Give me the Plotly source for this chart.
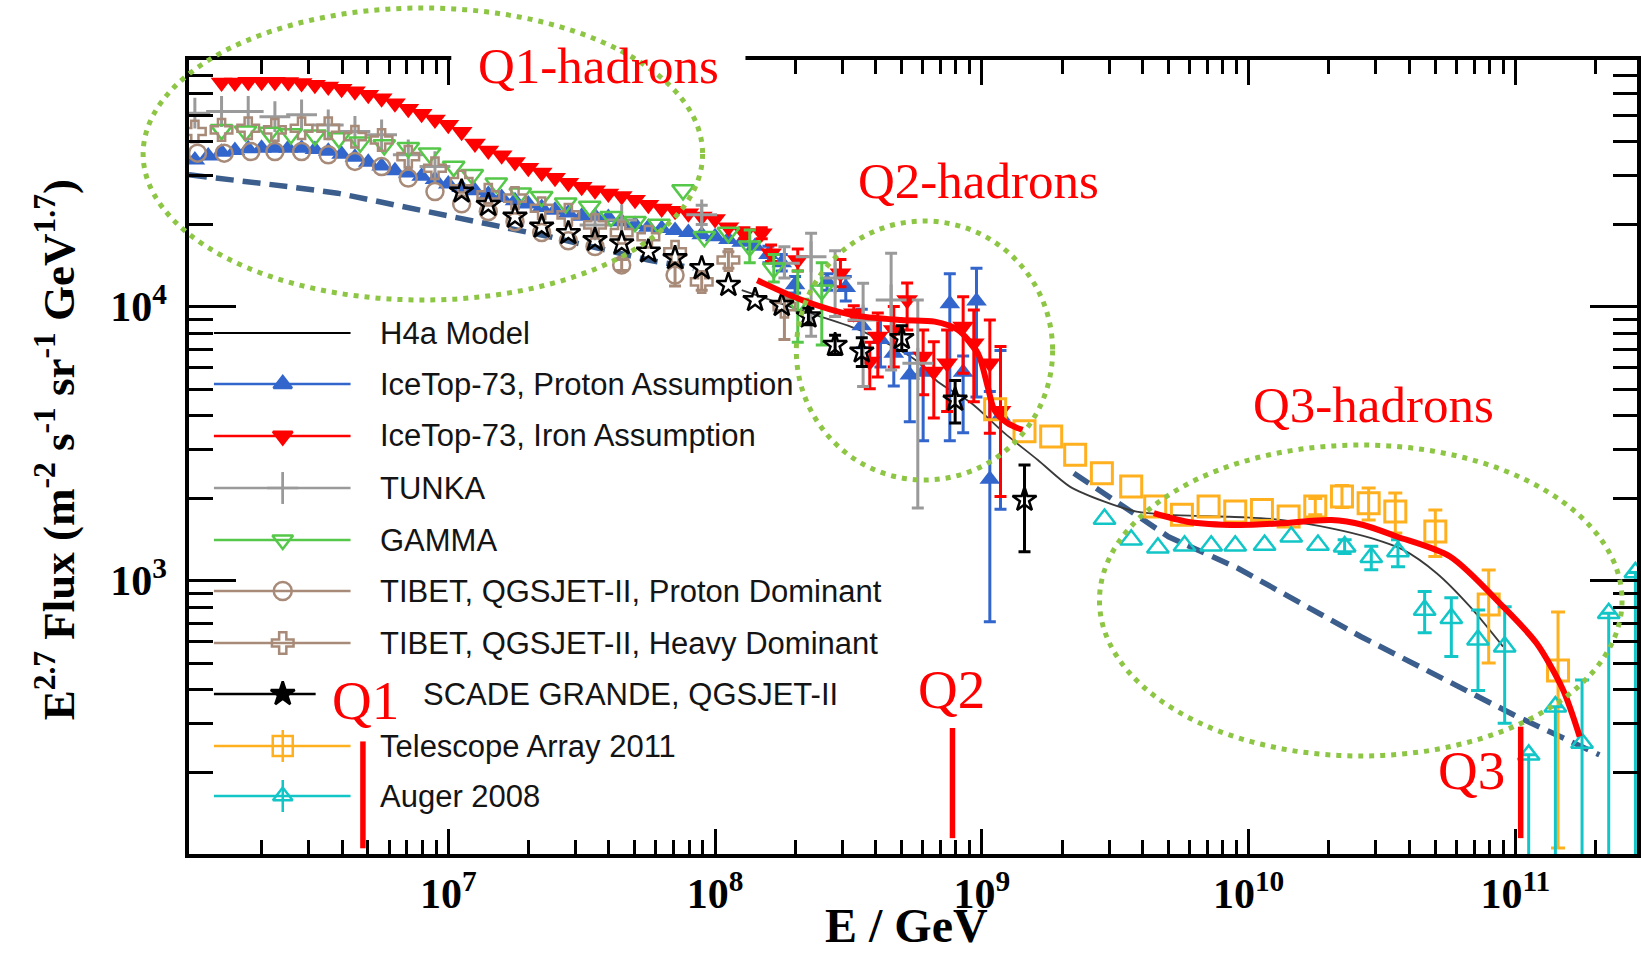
import plotly.graph_objects as go

# ---------------- data: log10(E / GeV) and log10(E^2.7 Flux) ----------------
h4a_logE = [8.10, 8.31, 8.54, 8.75, 8.835, 8.96, 9.085, 9.21, 9.33, 9.46, 9.58, 9.71, 9.89, 9.99,
            10.12, 10.31, 10.46, 10.58, 10.705, 10.83, 10.954]
h4a_logF = [4.06, 3.99, 3.915, 3.806, 3.726, 3.648, 3.538, 3.44, 3.343, 3.288, 3.252, 3.24, 3.234, 3.231,
            3.222, 3.191, 3.155, 3.112, 3.027, 2.905, 2.759]

dash1_logE = [6.028, 6.21, 6.40, 6.585, 6.77, 6.96, 7.15, 7.38, 7.75, 7.92]
dash1_logF = [4.481, 4.462, 4.438, 4.414, 4.377, 4.341, 4.304, 4.255, 4.17, 4.14]
dash2_logE = [9.345, 9.70, 9.96, 10.42, 11.004, 11.315]
dash2_logF = [3.392, 3.16, 3.045, 2.796, 2.505, 2.364]

proton_logE = [6.05, 6.10, 6.15, 6.20, 6.25, 6.30, 6.35, 6.40, 6.45, 6.50, 6.55, 6.60, 6.65, 6.70, 6.75,
               6.80, 6.85, 6.90, 6.95, 7.00, 7.05, 7.10, 7.15, 7.20, 7.25, 7.30, 7.35, 7.40, 7.45, 7.50,
               7.55, 7.60, 7.65, 7.70, 7.75, 7.80, 7.85, 7.90, 7.95, 8.00, 8.05, 8.10, 8.15, 8.20, 8.25,
               8.30, 8.42, 8.49, 8.55, 8.62, 8.67, 8.73, 8.78, 8.88, 8.93, 8.98, 9.03, 9.07]
proton_logF = [4.535, 4.550, 4.563, 4.570, 4.576, 4.578, 4.578, 4.578, 4.578, 4.573, 4.567, 4.556, 4.545,
               4.527, 4.513, 4.496, 4.488, 4.476, 4.464, 4.447, 4.435, 4.423, 4.410, 4.398, 4.386, 4.374,
               4.362, 4.352, 4.342, 4.330, 4.330, 4.325, 4.310, 4.300, 4.290, 4.285, 4.278, 4.270, 4.262,
               4.255, 4.245, 4.235, 4.22, 4.19, 4.16, 4.08, 4.09, 4.07, 3.93, 3.88, 3.83, 3.75, 3.76,
               4.01, 3.76, 4.02, 3.37, 3.60]
proton_up = [0] * 43 + [0.03, 0.03, 0.03, 0.03, 0.04, 0.06, 0.08, 0.08, 0.08, 0.06, 0.11, 0.06, 0.12, 0.32, 0.24]
proton_dn = [0] * 43 + [0.03, 0.03, 0.03, 0.03, 0.05, 0.08, 0.10, 0.12, 0.17, 0.25, 0.50, 0.22, 0.35, 0.52, 0.34]

iron_logE = [6.15, 6.20, 6.25, 6.30, 6.35, 6.40, 6.45, 6.50, 6.55, 6.60, 6.65, 6.70, 6.75, 6.80, 6.85,
             6.90, 6.95, 7.00, 7.05, 7.10, 7.15, 7.20, 7.25, 7.30, 7.35, 7.40, 7.45, 7.50, 7.55, 7.60,
             7.65, 7.70, 7.75, 7.80, 7.85, 7.90, 7.95, 8.00, 8.05, 8.11, 8.175, 8.21, 8.31, 8.47, 8.52,
             8.58, 8.61, 8.67, 8.72, 8.78, 8.82, 8.87, 8.93, 8.97, 9.03, 9.07]
iron_logF = [4.818, 4.818, 4.821, 4.821, 4.821, 4.820, 4.816, 4.810, 4.803, 4.795, 4.786, 4.773, 4.760,
             4.742, 4.722, 4.704, 4.683, 4.664, 4.638, 4.595, 4.570, 4.552, 4.528, 4.507, 4.489, 4.470,
             4.452, 4.437, 4.425, 4.413, 4.404, 4.390, 4.372, 4.358, 4.350, 4.341, 4.329, 4.320, 4.290,
             4.268, 4.268, 4.195, 4.170, 4.122, 3.976, 3.800, 3.891, 3.915, 4.024, 3.818, 3.763, 3.793,
             3.927, 3.866, 3.793, 3.620]
iron_up = [0] * 39 + [0.02, 0.02, 0.03, 0.04, 0.05, 0.027, 0.07, 0.086, 0.085, 0.062, 0.097, 0.109, 0.122,
                      0.109, 0.122, 0.158, 0.234]
iron_dn = [0] * 39 + [0.02, 0.02, 0.03, 0.04, 0.05, 0.027, 0.10, 0.148, 0.135, 0.109, 0.14, 0.17, 0.176,
                      0.17, 0.213, 0.255, 0.313]

tunka_logE = [6.05, 6.15, 6.25, 6.35, 6.45, 6.55, 6.65, 6.75, 6.85, 6.95, 7.55, 7.65, 7.95, 8.26, 8.36,
              8.45, 8.555, 8.66, 8.76]
tunka_logF = [4.706, 4.712, 4.712, 4.693, 4.700, 4.663, 4.639, 4.627, 4.554, 4.511, 4.298, 4.316, 4.335,
              4.158, 4.182, 4.104, 3.951, 4.024, 3.793]
tunka_up = [0] * 12 + [0.035, 0.06, 0.086, 0.10, 0.134, 0.171, 0.231]
tunka_dn = [0] * 12 + [0.035, 0.054, 0.29, 0.14, 0.243, 0.255, 0.528]

gamma_logE = [6.15, 6.24, 6.33, 6.41, 6.50, 6.59, 6.67, 6.76, 6.85, 6.93, 7.02, 7.09, 7.18, 7.27, 7.35,
              7.44, 7.53, 7.61, 7.70, 7.79, 7.88, 7.96, 8.05, 8.13, 8.22, 8.31, 8.40]
gamma_logF = [4.645, 4.64, 4.635, 4.63, 4.625, 4.615, 4.60, 4.59, 4.58, 4.56, 4.511, 4.481, 4.45, 4.414,
              4.401, 4.377, 4.365, 4.328, 4.31, 4.30, 4.426, 4.255, 4.27, 4.22, 4.14, 4.01, 4.06]
gamma_up = [0] * 23 + [0.06, 0.05, 0.12, 0.10]
gamma_dn = [0] * 23 + [0.06, 0.05, 0.14, 0.20]

tibetp_logE = [6.06, 6.16, 6.26, 6.35, 6.45, 6.55, 6.65, 6.75, 6.85, 6.95, 7.05, 7.15, 7.25, 7.35, 7.45,
               7.55, 7.65, 7.85]
tibetp_logF = [4.56, 4.56, 4.566, 4.566, 4.566, 4.554, 4.53, 4.511, 4.469, 4.42, 4.375, 4.347, 4.31, 4.27,
               4.24, 4.219, 4.152, 4.115]
tibetp_up = [0] * 16 + [0.02, 0.04]
tibetp_dn = [0] * 16 + [0.02, 0.04]

tibeth_logE = [6.05, 6.15, 6.25, 6.35, 6.45, 6.55, 6.65, 6.75, 6.85, 6.95, 7.05, 7.15, 7.25, 7.35, 7.45,
               7.55, 7.65, 7.75, 7.85, 7.95, 8.05, 8.26]
tibeth_logF = [4.639, 4.645, 4.651, 4.645, 4.651, 4.651, 4.62, 4.608, 4.547, 4.505, 4.456, 4.408, 4.396,
               4.359, 4.335, 4.298, 4.27, 4.255, 4.20, 4.09, 4.17, 4.00]
tibeth_up = [0] * 19 + [0.03, 0.03, 0.03]
tibeth_dn = [0] * 19 + [0.03, 0.03, 0.12]

kg_logE = [7.05, 7.15, 7.25, 7.35, 7.45, 7.55, 7.65, 7.75, 7.85, 7.95, 8.05, 8.15, 8.25, 8.35, 8.45, 8.55,
           8.70, 8.90, 9.16]
kg_logF = [4.42, 4.371, 4.328, 4.292, 4.268, 4.243, 4.231, 4.201, 4.177, 4.14, 4.079, 4.024, 4.006, 3.964,
           3.86, 3.836, 3.885, 3.66, 3.295]
kg_up = [0] * 13 + [0.03, 0.035, 0.05, 0.045, 0.07, 0.127]
kg_dn = [0] * 13 + [0.03, 0.035, 0.055, 0.045, 0.085, 0.19]

ta_logE = [9.05, 9.16, 9.26, 9.35, 9.45, 9.56, 9.65, 9.75, 9.85, 9.95, 10.05, 10.15, 10.25, 10.35, 10.45,
           10.55, 10.70, 10.90, 11.16]
ta_logF = [3.625, 3.545, 3.526, 3.459, 3.392, 3.343, 3.27, 3.24, 3.27, 3.252, 3.258, 3.234, 3.27, 3.307,
           3.282, 3.252, 3.179, 2.913, 2.672]
ta_up = [0] * 12 + [0.03, 0.04, 0.056, 0.068, 0.079, 0.126, 0.213]
ta_dn = [0] * 12 + [0.03, 0.04, 0.061, 0.078, 0.091, 0.214, 0.648]

auger_logE = [9.46, 9.56, 9.66, 9.76, 9.86, 9.95, 10.06, 10.16, 10.26, 10.36, 10.46, 10.56, 10.66, 10.76,
              10.86, 10.96, 11.05, 11.15, 11.25, 11.35, 11.45]
auger_logF = [3.225, 3.149, 3.12, 3.127, 3.127, 3.127, 3.13, 3.16, 3.13, 3.124, 3.085, 3.106, 2.893, 2.863,
              2.784, 2.759, 2.364, 2.54, 2.407, 2.881, 3.03]
auger_up = [0] * 9 + [0.025, 0.04, 0.043, 0.067, 0.074, 0.109, 0.146, 0.0, 0.0, 0.23, 0.0, 0.0]
auger_dn = [0] * 9 + [0.025, 0.045, 0.055, 0.083, 0.14, 0.185, 0.28, 0.5, 0.7, 0.6, 1.0, 1.2]

fitQ2_logE = [8.158, 8.325, 8.512, 8.698, 8.823, 8.91, 8.985, 9.022, 9.047, 9.097, 9.153]
fitQ2_logF = [4.096, 4.024, 3.97, 3.951, 3.945, 3.915, 3.83, 3.708, 3.623, 3.574, 3.55]
fitQ3_logE = [9.645, 9.77, 9.96, 10.12, 10.31, 10.43, 10.555, 10.755, 10.954, 11.079, 11.179, 11.241]
fitQ3_logF = [3.246, 3.215, 3.203, 3.209, 3.221, 3.203, 3.161, 3.088, 2.905, 2.772, 2.601, 2.431]

q_names = ["Q1", "Q2", "Q3"]
q_logE = [6.68, 8.89, 11.02]
q_logF_low = [2.023, 2.06, 2.06]
q_logF_high = [2.413, 2.462, 2.467]

x_tickvals = [1e7, 1e8, 1e9, 1e10, 1e11]
x_ticktext = ["10<sup>7</sup>", "10<sup>8</sup>", "10<sup>9</sup>", "10<sup>10</sup>", "10<sup>11</sup>"]
y_tickvals = [1e3, 1e4]
y_ticktext = ["10<sup>3</sup>", "10<sup>4</sup>"]

legend_labels = ["H4a Model", "IceTop-73, Proton Assumption", "IceTop-73, Iron Assumption", "TUNKA", "GAMMA",
                 "TIBET, QGSJET-II, Proton Dominant", "TIBET, QGSJET-II, Heavy Dominant",
                 "SCADE GRANDE, QGSJET-II", "Telescope Array 2011", "Auger 2008"]

# ---------------- styling / layout ----------------
W, H = 1641, 953
ML, MR, MT, MB = 189, 0, 60, 99
PW = W - ML - MR
PH = H - MT - MB


def px(X):
    return (X - ML) / PW


def py(Y):
    return (H - MB - Y) / PH


BLUE = "#3366cc"
RED = "#ff0000"
GRAY = "#9a9a9a"
GREEN = "#55c84a"
BROWN = "#a88a78"
ORANGE = "#ffb01e"
CYAN = "#12c6c8"
DASHBLUE = "#3b5e8c"
ELLGREEN = "#8dc644"

fig = go.Figure()


def lin(v):
    return [10 ** a for a in v]


def add_line(logE, logF, color, width, dash="solid", shape="linear"):
    fig.add_trace(go.Scatter(x=lin(logE), y=lin(logF), mode="lines",
                             line=dict(color=color, width=width, dash=dash, shape=shape, smoothing=0.8),
                             showlegend=False, hoverinfo="skip"))


def add_series(logE, logF, color, symbol, size, lw, up=None, dn=None, capw=6, ew=3):
    E = lin(logE)
    F = lin(logF)
    if up is not None:
        idx = [i for i in range(len(E)) if up[i] > 0 or dn[i] > 0]
        fig.add_trace(go.Scatter(
            x=[E[i] for i in idx], y=[F[i] for i in idx], mode="markers",
            marker=dict(size=2, opacity=0),
            error_y=dict(type="data", symmetric=False,
                         array=[F[i] * (10 ** up[i] - 1) for i in idx],
                         arrayminus=[F[i] * (1 - 10 ** (-dn[i])) for i in idx],
                         color=color, thickness=ew, width=capw),
            showlegend=False, hoverinfo="skip"))
    fig.add_trace(go.Scatter(x=E, y=F, mode="markers",
                             marker=dict(symbol=symbol, size=size, color=color,
                                         line=dict(color=color, width=lw)),
                             showlegend=False))


add_line(dash1_logE, dash1_logF, DASHBLUE, 5.5, "18px,9px")
add_line(dash2_logE, dash2_logF, DASHBLUE, 5.5, "18px,9px")
add_line(h4a_logE, h4a_logF, "#3a3a3a", 1.8, shape="spline")

add_series(proton_logE, proton_logF, BLUE, "triangle-up", 18, 0, proton_up, proton_dn)
add_series(iron_logE, iron_logF, RED, "triangle-down", 19, 0, iron_up, iron_dn)
add_series(tunka_logE, tunka_logF, GRAY, "cross-thin-open", 22, 3, tunka_up, tunka_dn)
add_series(gamma_logE, gamma_logF, GREEN, "triangle-down-open", 19, 2.5, gamma_up, gamma_dn)
add_series(tibetp_logE, tibetp_logF, BROWN, "circle-open", 17, 2.5, tibetp_up, tibetp_dn)
add_series(tibeth_logE, tibeth_logF, BROWN, "cross-open", 18, 2.5, tibeth_up, tibeth_dn)
add_series(kg_logE, kg_logF, "#000000", "star-open", 18, 2.5, kg_up, kg_dn)
add_series(ta_logE, ta_logF, ORANGE, "square-open", 21, 3, ta_up, ta_dn, capw=7)
add_series(auger_logE, auger_logF, CYAN, "triangle-up-open", 19, 2.5, auger_up, auger_dn, capw=7)

add_line(fitQ2_logE, fitQ2_logF, RED, 6, shape="spline")
add_line(fitQ3_logE, fitQ3_logF, RED, 6, shape="spline")

for i in range(len(q_logE)):
    fig.add_trace(go.Scatter(x=[10 ** q_logE[i], 10 ** q_logE[i]],
                             y=[10 ** q_logF_low[i], 10 ** q_logF_high[i]],
                             mode="lines", line=dict(color=RED, width=5.5),
                             showlegend=False, hoverinfo="skip"))

# ---------------- hand-built legend (on an overlay 0..1 axis pair) ----------------
leg_Y = [333, 384, 436, 488, 540, 591, 643, 694, 746, 796]
leg_colors = ["#000000", BLUE, RED, GRAY, GREEN, BROWN, BROWN, "#000000", ORANGE, CYAN]
leg_symbols = [None, "triangle-up", "triangle-down", "cross-thin-open", "triangle-down-open",
               "circle-open", "cross-open", "star", "square-open", "triangle-up-open"]
leg_sizes = [0, 16, 17, 22, 18, 18, 18, 18, 20, 17]
leg_bar = [False, False, False, True, False, False, False, False, True, True]
for i, lab in enumerate(legend_labels):
    x_end = 316 if i == 7 else 351
    fig.add_trace(go.Scatter(x=[px(214), px(x_end)], y=[py(leg_Y[i])] * 2, mode="lines",
                             line=dict(color=leg_colors[i], width=2 if i == 0 else 2.5),
                             xaxis="x2", yaxis="y2", showlegend=False, hoverinfo="skip"))
    if leg_symbols[i]:
        err = dict(type="constant", value=16 / PH, color=leg_colors[i], thickness=2.5, width=0,
                   visible=leg_bar[i])
        fig.add_trace(go.Scatter(x=[px(283)], y=[py(leg_Y[i])], mode="markers",
                                 marker=dict(symbol=leg_symbols[i], size=leg_sizes[i], color=leg_colors[i],
                                             line=dict(color=leg_colors[i], width=2.5)),
                                 error_y=err, xaxis="x2", yaxis="y2", showlegend=False, hoverinfo="skip"))
    fig.add_annotation(x=px(422 if i == 7 else 379), y=py(leg_Y[i]), xref="paper", yref="paper",
                       text=lab, showarrow=False, xanchor="left", yanchor="middle",
                       font=dict(family="Liberation Sans", size=31, color="#141414"))

# ---------------- shapes: white box behind Q1 label, dotted ellipses ----------------
shapes = [dict(type="rect", xref="paper", yref="paper", x0=px(452), x1=px(747), y0=py(28), y1=py(95),
               fillcolor="white", line=dict(width=0), layer="above")]
for (x0, y0, x1, y1) in [(143, 8, 704, 300), (798, 221, 1055, 480), (1102, 445, 1626, 756)]:
    shapes.append(dict(type="circle", xref="paper", yref="paper", x0=px(x0), x1=px(x1), y0=py(y1), y1=py(y0),
                       line=dict(color=ELLGREEN, width=5, dash="5px,6px"), layer="above"))

# ---------------- text annotations ----------------
serif = "Liberation Serif"
for txt, X, Y in [("Q1-hadrons", 600, 66), ("Q2-hadrons", 981, 181), ("Q3-hadrons", 1377, 405)]:
    fig.add_annotation(x=px(X), y=py(Y), xref="paper", yref="paper", text=txt, showarrow=False,
                       xanchor="center", yanchor="middle", font=dict(family=serif, size=51, color=RED))
for txt, X, Y in [("Q1", 366, 700), ("Q2", 954, 689), ("Q3", 1475, 770)]:
    fig.add_annotation(x=px(X), y=py(Y), xref="paper", yref="paper", text=txt, showarrow=False,
                       xanchor="center", yanchor="middle", font=dict(family=serif, size=55, color=RED))

fig.add_annotation(x=px(908), y=py(925), xref="paper", yref="paper", text="E / GeV", showarrow=False,
                   xanchor="center", yanchor="middle",
                   font=dict(family=serif, size=48, color="black", weight="bold"))
fig.add_annotation(x=px(56), y=py(450), xref="paper", yref="paper", textangle=-90,
                   text="E<sup>2.7</sup> Flux (m<sup>-2</sup> s<sup>-1</sup> sr<sup>-1</sup> GeV<sup>1.7</sup>)",
                   showarrow=False, xanchor="center", yanchor="middle",
                   font=dict(family=serif, size=45, color="black", weight="bold"))

x_minor = [k * 10 ** n for n in range(6, 12) for k in range(2, 10)]
y_minor = [k * 10 ** n for n in range(2, 5) for k in range(2, 10)]
tickfont = dict(family=serif, size=42, color="black", weight="bold")

fig.update_layout(
    width=W, height=H, margin=dict(l=ML, r=MR, t=MT, b=MB, pad=0),
    paper_bgcolor="white", plot_bgcolor="white", showlegend=False,
    shapes=shapes,
    xaxis=dict(type="log", range=[6.028, 11.456], tickmode="array", tickvals=x_tickvals, ticktext=x_ticktext,
               ticks="inside", ticklen=25, tickwidth=3, tickcolor="black", showline=True, linewidth=3.5,
               linecolor="black", mirror="allticks", showgrid=False, zeroline=False, tickfont=tickfont,
               minor=dict(tickvals=x_minor, ticks="inside", ticklen=14, tickwidth=3, tickcolor="black",
                          showgrid=False)),
    yaxis=dict(type="log", range=[2.0022, 4.9], tickmode="array", tickvals=y_tickvals, ticktext=y_ticktext,
               ticks="inside", ticklen=47, tickwidth=3, tickcolor="black", showline=True, linewidth=3.5,
               linecolor="black", mirror="allticks", showgrid=False, zeroline=False, tickfont=tickfont,
               ticklabelstandoff=10,
               minor=dict(tickvals=y_minor, ticks="inside", ticklen=24, tickwidth=3, tickcolor="black",
                          showgrid=False)),
    xaxis2=dict(overlaying="x", anchor="y2", range=[0, 1], visible=False, fixedrange=True),
    yaxis2=dict(overlaying="y", anchor="x2", range=[0, 1], visible=False, fixedrange=True),
)

fig.write_html("out.html", config={"displayModeBar": False})
